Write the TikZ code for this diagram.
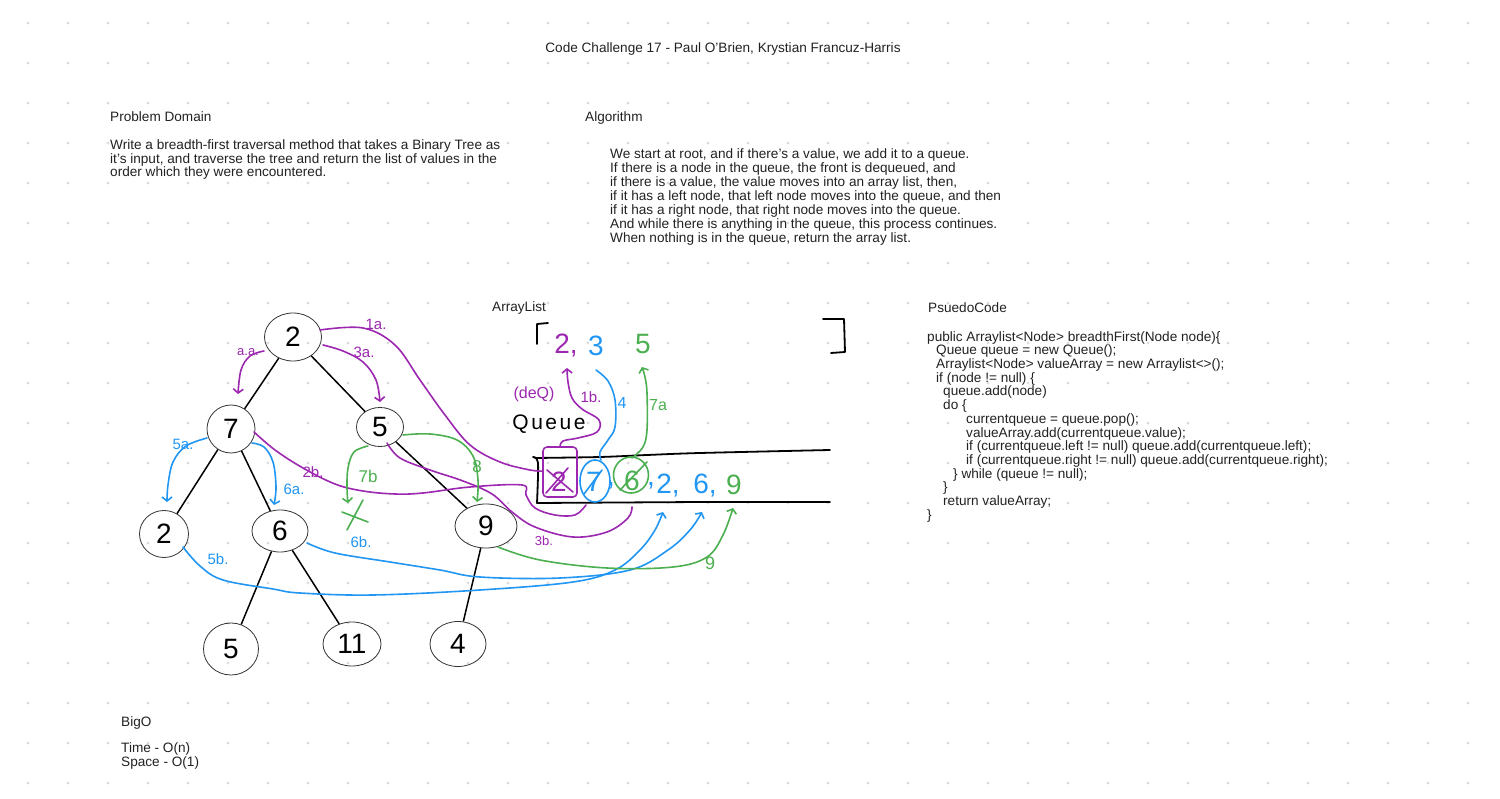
\documentclass[tikz,border=0pt]{standalone}
\usepackage{fontspec}
\setmainfont{Liberation Sans}
\usetikzlibrary{shapes.geometric,arrows.meta}
\definecolor{hpurple}{HTML}{9C27B0}
\definecolor{hblue}{HTML}{2196F3}
\definecolor{hgreen}{HTML}{4CAF50}
\definecolor{dotc}{HTML}{DDDDDD}
\definecolor{txt}{HTML}{222222}
\begin{document}
\begin{tikzpicture}[x=1pt,y=-1pt,
  tnode/.style={ellipse,draw=black!80,line width=0.8pt,inner sep=0pt,font=\fontsize{28}{28}\selectfont},
  edge/.style={line width=1.5pt,black},
  hand/.style={line width=1.6pt,line cap=round,line join=round},
  pu/.style={hand,hpurple}, bl/.style={hand,hblue}, gr/.style={hand,hgreen},
  blk/.style={hand,black,line width=1.8pt},
  tip/.style={-{Straight Barb[length=4pt,width=10pt]}},
  lab/.style={inner sep=0pt,font=\fontsize{15}{15}\selectfont},
  txtn/.style={anchor=base west,inner sep=0pt,text=txt,font=\fontsize{13.6}{14}\selectfont},
  hw/.style={inner sep=0pt,font=\fontsize{28}{28}\selectfont}
]
\useasboundingbox (0,0) rectangle (1500,799);
\fill[white] (0,0) rectangle (1500,799);
\foreach \i in {0,...,36} \foreach \j in {0,...,19} \fill[dotc] ({28+40*\i},{23+40*\j}) circle (1.6);

% texts
\node[txtn,anchor=base] (title) at (723,53) {Code Challenge 17 - Paul O'Brien, Krystian Francuz-Harris};
\node[txtn] (pdh) at (110,122) {Problem Domain};
\node[txtn] (pd1) at (110,149.5) {Write a breadth-first traversal method that takes a Binary Tree as};
\node[txtn] (pd2) at (110,163.2) {it's input, and traverse the tree and return the list of values in the};
\node[txtn] (pd3) at (110,176.9) {order which they were encountered.};
\node[txtn] (alh) at (585,122) {Algorithm};
\node[txtn] (al1) at (610,158.5) {We start at root, and if there's a value, we add it to a queue.};
\node[txtn] (al2) at (610,172.5) {If there is a node in the queue, the front is dequeued, and};
\node[txtn] (al3) at (610,186.5) {if there is a value, the value moves into an array list, then,};
\node[txtn] (al4) at (610,200.5) {if it has a left node, that left node moves into the queue, and then};
\node[txtn] (al5) at (610,214.5) {if it has a right node, that right node moves into the queue.};
\node[txtn] (al6) at (610,228.5) {And while there is anything in the queue, this process continues.};
\node[txtn] (al7) at (610,242.5) {When nothing is in the queue, return the array list.};
\node[txtn] (arh) at (492,311.5) {ArrayList};
\node[txtn] (psh) at (928,312.5) {PsuedoCode};
\node[txtn] (c1) at (927,341.2) {public Arraylist<Node> breadthFirst(Node node)\{};
\node[txtn] (c2) at (936,354.9) {Queue queue = new Queue();};
\node[txtn] (c3) at (936,368.6) {Arraylist<Node> valueArray = new Arraylist<>();};
\node[txtn] (c4) at (936,382.3) {if (node != null) \{};
\node[txtn] (c5) at (943,396.0) {queue.add(node)};
\node[txtn] (c6) at (943,409.7) {do \{};
\node[txtn] (c7) at (966,423.4) {currentqueue = queue.pop();};
\node[txtn] (c8) at (966,437.1) {valueArray.add(currentqueue.value);};
\node[txtn] (c9) at (966,450.8) {if (currentqueue.left != null) queue.add(currentqueue.left);};
\node[txtn] (c10) at (966,464.5) {if (currentqueue.right != null) queue.add(currentqueue.right);};
\node[txtn] (c11) at (953,478.2) {\} while (queue != null);};
\node[txtn] (c12) at (943,491.9) {\}};
\node[txtn] (c13) at (943,505.6) {return valueArray;};
\node[txtn] (c14) at (927,519.3) {\}};
\node[txtn] (boh) at (121,726) {BigO};
\node[txtn] (bo1) at (121,752) {Time - O(n)};
\node[txtn] (bo2) at (121,766) {Space - O(1)};

% tree
\node[tnode,minimum width=57pt,minimum height=48pt] (r) at (293,337) {2};
\node[tnode,minimum width=48pt,minimum height=48pt] (n7) at (231,429) {7};
\node[tnode,minimum width=47pt,minimum height=39pt] (n5) at (380,427) {5};
\node[tnode,minimum width=49pt,minimum height=47pt] (n2) at (164,534) {2};
\node[tnode,minimum width=56pt,minimum height=42pt] (n6) at (280,531) {6};
\node[tnode,minimum width=62pt,minimum height=44pt] (n9) at (486,526) {9};
\node[tnode,minimum width=55pt,minimum height=52pt] (m5) at (231,649) {5};
\node[tnode,minimum width=58pt,minimum height=44pt] (m11) at (352,644) {11};
\node[tnode,minimum width=56pt,minimum height=45pt] (m4) at (458,644) {4};
\draw[edge] (r) -- (n7);
\draw[edge] (r) -- (n5);
\draw[edge] (n7) -- (n2);
\draw[edge] (n7) -- (n6);
\draw[edge] (n5) -- (n9);
\draw[edge] (n6) -- (m5);
\draw[edge] (n6) -- (m11);
\draw[edge] (n9) -- (m4);

% array list brackets and values
\draw[blk] (537,344) -- (537,324) -- (548,323);
\draw[blk] (823,319) -- (844,319) -- (845,352) -- (831,353);
\node[hw,text=hpurple] (a1) at (566,346) {2,};
\node[hw,text=hblue] (a2) at (596,346) {3};
\node[hw,text=hgreen] (a3) at (643,344) {5};

% queue box
\draw[blk] plot[smooth,tension=0.5] coordinates {(533,457) (538,463) (537,503)};
\draw[blk] plot[smooth,tension=0.5] coordinates {(535,458) (600,457) (647,455) (700,453) (830,450)};
\draw[blk] (537,503) -- (700,502) -- (830,502);
\node[inner sep=0pt,font=\fontsize{21}{21}\selectfont\addfontfeatures{LetterSpace=12}] (qlab) at (549,424) {Queue};

% queue items
\draw[pu,rounded corners=4pt] (543,447) rectangle (577,497);
\node[hw,text=hpurple] (q1) at (559,482) {2};
\draw[pu] (546,493) -- (568,468);
\draw[pu] (547,470) -- (573,492);
\draw[bl] (595,481) ellipse (15 and 21);
\node[hw,text=hblue] (q2) at (594,482) {7};
\draw[bl] (584,494) -- (602,470);
\node[hw,text=hblue] (q2c) at (611,486) {,};
\draw[gr] (631,475) ellipse (17.5 and 18);
\node[hw,text=hgreen] (q3) at (632,481) {6};
\draw[gr] (620,490) -- (647,462);
\node[hw,text=hblue] (q3c) at (651,486) {,};
\node[hw,text=hblue] (q4) at (668,486) {2,};
\node[hw,text=hblue] (q5) at (705,486) {6,};
\node[hw,text=hgreen] (q6) at (734,485) {9};

% purple annotations
\draw[pu] plot[smooth,tension=0.6] coordinates {(320,330) (363,328) (395,345) (420,380) (445,415) (470,445) (500,462) (530,470) (543,471)};
\node[lab,text=hpurple] (l1a) at (376,324) {1a.};
\draw[pu,tip] plot[smooth,tension=0.6] coordinates {(264,351) (250,356) (241,370) (238,394)};
\node[lab,text=hpurple,font=\fontsize{13}{13}\selectfont] (laa) at (248,352) {a.a.};
\draw[pu,tip] plot[smooth,tension=0.6] coordinates {(323,345) (343,351) (363,362) (376,380) (380,402)};
\node[lab,text=hpurple] (l3a) at (364,352) {3a.};
\draw[pu,tip] plot[smooth,tension=0.6] coordinates {(560,447) (563,441) (578,438) (597,432) (599,420) (582,409) (572,398) (568,382) (567,368)};
\node[lab,text=hpurple,font=\fontsize{16}{16}\selectfont] (ldq) at (534,394) {(deQ)};
\node[lab,text=hpurple] (l1b) at (591,397) {1b.};
\draw[pu] plot[smooth,tension=0.6] coordinates {(254,432) (275,450) (303,468) (335,484) (363,491) (395,494) (423,493) (470,487) (522,485) (526,495) (535,508) (555,515) (575,515) (586,505)};
\node[lab,text=hpurple] (l2b) at (313,472) {2b.};
\draw[pu] plot[smooth,tension=0.6] coordinates {(387,443) (400,458) (430,470) (463,481) (492,494) (512,512) (535,527) (573,537) (607,532) (628,518) (632,507)};
\node[lab,text=hpurple,font=\fontsize{13}{13}\selectfont] (l3b) at (544,541) {3b.};

% blue annotations
\draw[bl] plot[smooth,tension=0.6] coordinates {(601,460) (600,452) (608,440) (615,427) (615,400) (608,381) (596,370)};
\node[lab,text=hblue,font=\fontsize{16}{16}\selectfont] (l4) at (622,403) {4};
\draw[bl,tip] plot[smooth,tension=0.6] coordinates {(207,438) (186,446) (173,462) (168,485) (167,502)};
\node[lab,text=hblue] (l5a) at (183,444) {5a.};
\draw[bl,tip] plot[smooth,tension=0.6] coordinates {(252,443) (264,447) (273,462) (276,487) (274,505)};
\node[lab,text=hblue] (l6a) at (294,489) {6a.};
\draw[bl,tip] plot[smooth,tension=0.6] coordinates {(307,543) (335,553) (390,562) (440,570) (480,577) (560,578) (630,570) (668,550) (690,530) (702,512)};
\node[lab,text=hblue] (l6b) at (361,542) {6b.};
\draw[bl,tip] plot[smooth,tension=0.6] coordinates {(183,547) (200,566) (223,580) (273,589) (300,593) (373,595) (480,590) (573,582) (615,570) (640,550) (655,530) (663,512)};
\node[lab,text=hblue] (l5b) at (218,559) {5b.};

% green annotations
\draw[gr,tip] plot[smooth,tension=0.6] coordinates {(632,458) (643,447) (647,430) (647,393) (645,377) (642,367)};
\node[lab,text=hgreen,font=\fontsize{16}{16}\selectfont] (l7a) at (658,405) {7a};
\draw[gr,tip] plot[smooth,tension=0.6] coordinates {(368,446) (354,452) (348,468) (347,488) (348,503)};
\node[lab,text=hgreen,font=\fontsize{17}{17}\selectfont] (l7b) at (368,476) {7b};
\draw[gr,tip] plot[smooth,tension=0.6] coordinates {(403,435) (430,434) (457,440) (473,456) (478,480) (477,502)};
\node[lab,text=hgreen,font=\fontsize{17}{17}\selectfont] (l8) at (477,467) {8};
\draw[gr] (347,530) -- (363,500);
\draw[gr] (342,512) -- (368,522);
\draw[gr,tip] plot[smooth,tension=0.6] coordinates {(498,547) (540,560) (607,568) (673,567) (707,557) (723,535) (733,508)};
\node[lab,text=hgreen,font=\fontsize{18}{18}\selectfont] (l9) at (710,563) {9};
\end{tikzpicture}
\end{document}
